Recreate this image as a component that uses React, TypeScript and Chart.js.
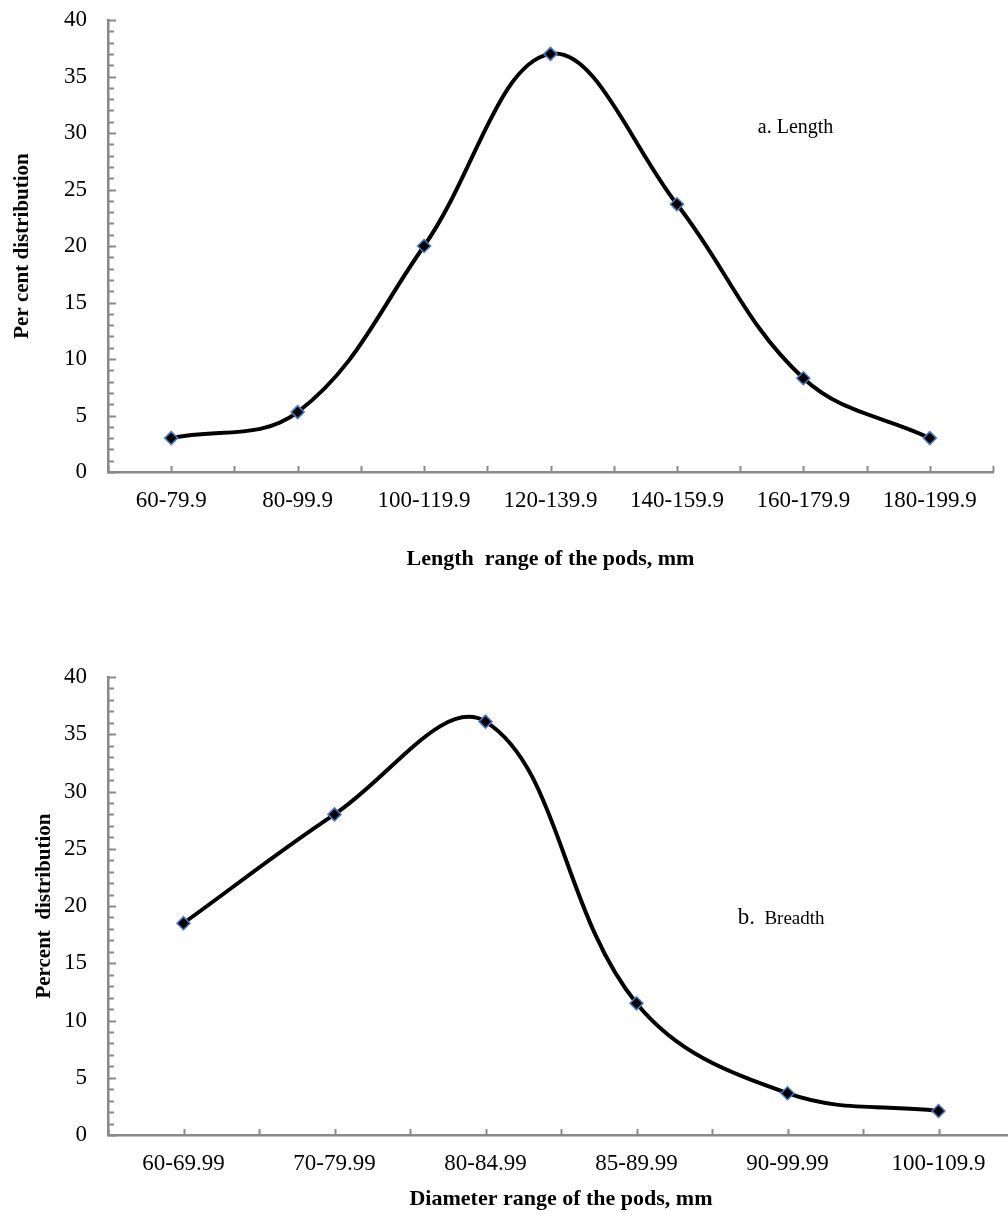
import React, { useEffect, useRef } from 'react';
import { Chart, registerables } from 'chart.js';

Chart.register(...registerables);

// ---- data ----
const lengthCategories = ['60-79.9', '80-99.9', '100-119.9', '120-139.9', '140-159.9', '160-179.9', '180-199.9'];
const lengthValues = [3, 5.3, 20, 37, 23.7, 8.3, 3];

const breadthCategories = ['60-69.99', '70-79.99', '80-84.99', '85-89.99', '90-99.99', '100-109.9'];
const breadthValues = [18.5, 28, 36.1, 11.5, 3.65, 2.1];

const yMin = 0;
const yMax = 40;
const yStep = 5;

const lengthTitleX = 'Length  range of the pods, mm';
const lengthTitleY = 'Per cent distribution';
const breadthTitleX = 'Diameter range of the pods, mm';
const breadthTitleY = 'Percent  distribution';

const lengthNote = [{ text: 'a. Length', size: 20 }];
const breadthNote = [{ text: 'b.', size: 23 }, { text: '  Breadth', size: 19 }];

// ---- styles ----
const AXIS_COLOR = '#898989';
const SERIF = '"Liberation Serif", "Times New Roman", serif';

const innerTicks = {
  id: 'innerTicks',
  beforeDatasetsDraw(chart: any) {
    const { ctx, scales, chartArea } = chart;
    const x = scales.x;
    const y = scales.y;
    ctx.save();
    ctx.strokeStyle = AXIS_COLOR;
    ctx.lineWidth = 2;
    for (let v = y.min; v <= y.max + 1e-9; v += 1) {
      const py = Math.round(y.getPixelForValue(v)) + 0.5;
      const len = v % 5 === 0 ? 8 : 6;
      ctx.beginPath();
      ctx.moveTo(chartArea.left, py);
      ctx.lineTo(chartArea.left + len, py);
      ctx.stroke();
    }
    const n = chart.data.labels.length;
    for (let k = 0; k <= 2 * n; k++) {
      const px = Math.round(x.getPixelForValue(-0.5 + k * 0.5)) + 0.5;
      ctx.beginPath();
      ctx.moveTo(px, chartArea.bottom);
      ctx.lineTo(px, chartArea.bottom - 6);
      ctx.stroke();
    }
    ctx.restore();
  },
};

const notePlugin = {
  id: 'note',
  afterDraw(chart: any, _args: any, opts: any) {
    if (!opts || !opts.parts) return;
    const { ctx, scales } = chart;
    let px = scales.x.getPixelForValue(opts.x);
    const py = scales.y.getPixelForValue(opts.y);
    ctx.save();
    ctx.fillStyle = '#000';
    ctx.textBaseline = 'alphabetic';
    ctx.textAlign = 'left';
    for (const p of opts.parts) {
      ctx.font = `${p.size}px ${SERIF}`;
      ctx.fillText(p.text, px, py);
      px += ctx.measureText(p.text).width;
    }
    ctx.restore();
  },
};

function makeConfig(
  labels: string[],
  values: number[],
  titleX: string,
  titleY: string,
  yTitlePad: number,
  xTitlePadBottom: number,
  chartTop: number,
  chartRightPad: number,
  xAxisHeight: number,
  note: any
) {
  return {
    type: 'line',
    data: {
      labels,
      datasets: [
        {
          data: values,
          borderColor: '#000',
          borderWidth: 4,
          tension: 0.38,
          fill: false,
          pointStyle: 'rectRot',
          pointRadius: 6.5,
          pointBackgroundColor: '#000',
          pointBorderColor: '#4a78c8',
          pointBorderWidth: 1.5,
        },
      ],
    },
    options: {
      responsive: false,
      animation: false,
      layout: { padding: { left: 0, right: chartRightPad, top: chartTop, bottom: 0 } },
      plugins: {
        legend: { display: false },
        tooltip: { enabled: false },
        note,
      },
      scales: {
        x: {
          type: 'category',
          offset: true,
          afterFit: (s: any) => {
            s.height = xAxisHeight;
            s.paddingLeft = 0;
            s.paddingRight = 0;
          },
          grid: { display: true, drawOnChartArea: false, drawTicks: false },
          border: { display: true, color: AXIS_COLOR, width: 2.5 },
          ticks: {
            color: '#000',
            font: { family: SERIF, size: 23 },
            padding: 15,
            maxRotation: 0,
            autoSkip: false,
          },
          title: {
            display: true,
            text: titleX,
            color: '#000',
            font: { family: SERIF, size: 22, weight: 'bold' },
            padding: { top: 0, bottom: xTitlePadBottom },
          },
        },
        y: {
          min: yMin,
          max: yMax,
          afterFit: (s: any) => {
            s.width = 108;
            s.paddingTop = 0;
            s.paddingBottom = 0;
          },
          grid: { display: true, drawOnChartArea: false, drawTicks: false },
          border: { display: true, color: AXIS_COLOR, width: 2.5 },
          ticks: {
            stepSize: yStep,
            color: '#000',
            font: { family: SERIF, size: 23 },
            padding: 21,
          },
          title: {
            display: true,
            text: titleY,
            color: '#000',
            font: { family: SERIF, size: 21, weight: 'bold' },
            padding: { top: yTitlePad, bottom: 0 },
          },
        },
      },
    },
    plugins: [innerTicks, notePlugin],
  };
}

export default function App() {
  const topRef = useRef<HTMLCanvasElement | null>(null);
  const botRef = useRef<HTMLCanvasElement | null>(null);

  useEffect(() => {
    const c1 = new Chart(
      topRef.current as HTMLCanvasElement,
      makeConfig(
        lengthCategories,
        lengthValues,
        lengthTitleX,
        lengthTitleY,
        10,
        17,
        20,
        15,
        118,
        { x: 4.64, y: 30.0, parts: lengthNote }
      ) as any
    );
    const c2 = new Chart(
      botRef.current as HTMLCanvasElement,
      makeConfig(
        breadthCategories,
        breadthValues,
        breadthTitleX,
        breadthTitleY,
        32,
        1,
        77,
        16,
        79,
        { x: 3.67, y: 18.4, parts: breadthNote }
      ) as any
    );
    return () => {
      c1.destroy();
      c2.destroy();
    };
  }, []);

  return (
    <div
      style={{
        position: 'fixed',
        left: 0,
        top: 0,
        width: 1008,
        height: 1214,
        overflow: 'hidden',
        background: '#fff',
      }}
    >
      <canvas
        ref={topRef}
        width={1008}
        height={590}
        style={{ position: 'absolute', left: 0, top: 0, width: 1008, height: 590 }}
      />
      <canvas
        ref={botRef}
        width={1030}
        height={614}
        style={{ position: 'absolute', left: 0, top: 600, width: 1030, height: 614 }}
      />
    </div>
  );
}
